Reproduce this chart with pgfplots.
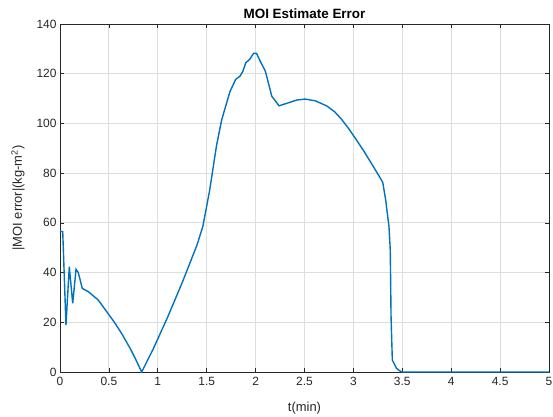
\documentclass[border=0pt]{standalone}
\usepackage{fontspec}
\setmainfont{Liberation Sans}
\usepackage{pgfplots}
\pgfplotsset{compat=1.18}
\definecolor{mblue}{RGB}{0,114,189}
\definecolor{axgray}{RGB}{38,38,38}
\begin{document}
\begin{tikzpicture}
\path[use as bounding box] (-60bp,-45bp) rectangle (493bp,372bp);
\begin{axis}[
  scale only axis, width=489bp, height=348bp,
  xmin=0, xmax=5, ymin=0, ymax=140,
  xtick={0,0.5,...,5}, ytick={0,20,...,140},
  xticklabels={0,0.5,1,1.5,2,2.5,3,3.5,4,4.5,5},
  grid=major, major grid style={color=black!13, line width=0.9pt},
  axis line style={axgray, line width=0.7pt},
  tick style={axgray, line width=0.7pt}, major tick length=4.5bp,
  tick label style={font=\fontsize{12}{14}\selectfont, text=axgray},
  xticklabel style={yshift=-2bp},
  /pgf/number format/assume math mode=true,
  title={\textbf{MOI Estimate Error}},
  title style={font=\fontsize{13.5}{15}\selectfont, yshift=-4bp},
  xlabel={t(min)}, ylabel={|MOI error|(kg-m\textsuperscript{2})},
  label style={font=\fontsize{13}{15}\selectfont, text=axgray},
  xlabel style={yshift=-9bp}, ylabel style={yshift=5bp},
]
\addplot[mblue, line width=1.4pt] coordinates {
(0,56.7) (0.028,56.4) (0.061,18.9) (0.095,42.4) (0.13,27.6) (0.164,41.3) (0.187,40)
(0.228,33.6) (0.29,32.3) (0.39,29) (0.49,23.6) (0.56,19.8) (0.63,15.5) (0.72,9.3) (0.78,4.6) (0.835,0)
(0.95,9) (1.1,22) (1.25,36) (1.4,51) (1.46,58.5) (1.53,73) (1.60,91)
(1.653,101.4) (1.687,106) (1.738,112.8) (1.796,117.7) (1.84,119) (1.868,120.8)
(1.90,124.4) (1.94,125.8) (1.98,128.2) (2.01,128.2) (2.045,125.2) (2.10,121)
(2.165,111) (2.24,107.1) (2.32,108.1) (2.42,109.4) (2.505,109.8) (2.61,109.1)
(2.73,107) (2.81,104.6) (2.88,101.6) (2.95,98) (3.02,94) (3.10,89.3) (3.20,82.9) (3.26,79) (3.30,76.3) (3.33,69.2)
(3.364,58.4) (3.377,49) (3.385,22.2) (3.398,4.8) (3.44,1.5) (3.48,0.3) (3.5,0) (5,0)
};
\end{axis}
\end{tikzpicture}
\end{document}
